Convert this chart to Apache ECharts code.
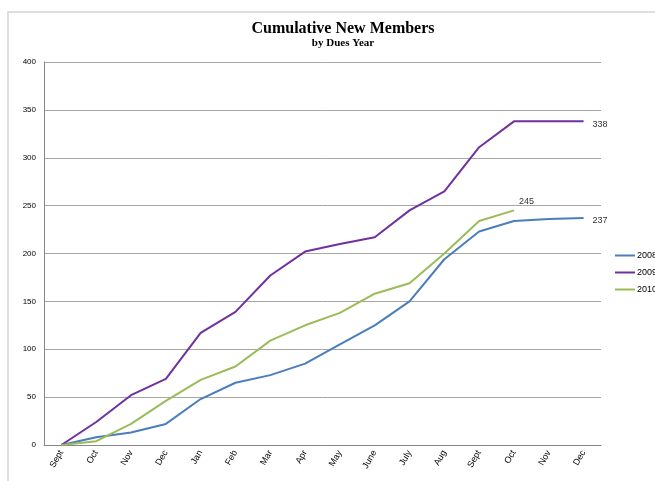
<!DOCTYPE html>
<html>
<head>
<meta charset="utf-8">
<script src="https://cdn.jsdelivr.net/npm/echarts@6/dist/echarts.min.js"></script>
<style>
  html, body { margin: 0; padding: 0; background: #fff; }
  #chart { width: 655px; height: 481px; }
</style>
</head>
<body>
<div id="chart"></div>
<script>
const months = ['Sept', 'Oct', 'Nov', 'Dec', 'Jan', 'Feb', 'Mar', 'Apr', 'May', 'June', 'July', 'Aug', 'Sept', 'Oct', 'Nov', 'Dec']
const y2008 = [0, 8, 13, 22, 48, 65, 73, 85, 105, 125, 150, 194, 223, 234, 236, 237]
const y2009 = [0, 24, 52, 69, 117, 139, 177, 202, 210, 217, 245, 265, 311, 338, 338, 338]
const y2010 = [0, 4, 22, 46, 68, 82, 109, 125, 138, 158, 169, 200, 234, 245]
const yTicks = [0, 400, 50]

// value label at the end of each line
const endLbl = (offset) => ({
  show: true, formatter: '{c}', offset: offset, distance: 5,
  fontSize: 9, color: '#333', fontFamily: 'Liberation Sans'
})

const chart = echarts.init(document.getElementById('chart'))
chart.setOption({
  animation: false,
  graphic: [{
    type: 'rect',
    shape: { x: 8, y: 12, width: 700, height: 520 },
    style: { fill: 'none', stroke: '#d4d4d4', lineWidth: 1.5 }
  }],
  title: {
    text: 'Cumulative New Members',
    subtext: 'by Dues Year',
    left: 338,
    textAlign: 'center',
    top: 16,
    itemGap: 1,
    textStyle: { fontFamily: 'Liberation Serif', fontWeight: 'bold', fontSize: 16, color: '#000' },
    subtextStyle: { fontFamily: 'Liberation Serif', fontWeight: 'bold', fontSize: 11, color: '#000' }
  },
  legend: {
    orient: 'vertical',
    left: 610,
    top: 246,
    itemWidth: 20,
    itemHeight: 2,
    itemGap: 8,
    icon: 'rect',
    textStyle: { fontSize: 9, color: '#000', fontFamily: 'Liberation Sans', padding: [0, 0, 0, -3] },
    data: ['2008', '2009', '2010']
  },
  grid: { left: 44, right: 54, top: 62, bottom: 36 },
  xAxis: {
    type: 'category',
    data: months,
    boundaryGap: true,
    axisLine: { lineStyle: { color: '#868686' } },
    axisTick: { show: false },
    axisLabel: { rotate: 60, fontSize: 9, color: '#000', fontFamily: 'Liberation Sans', interval: 0, margin: 6 }
  },
  yAxis: {
    type: 'value',
    min: yTicks[0],
    max: yTicks[1],
    interval: yTicks[2],
    axisLine: { show: true, lineStyle: { color: '#868686' } },
    axisTick: { show: false },
    axisLabel: { fontSize: 8, color: '#000', fontFamily: 'Liberation Sans', margin: 8 },
    splitLine: { lineStyle: { color: '#a6a6a6', width: 1 } }
  },
  series: [
    { name: '2008', type: 'line', data: y2008, symbol: 'none', color: '#4a7ebb', lineStyle: { width: 2 }, endLabel: endLbl([4, 2]) },
    { name: '2009', type: 'line', data: y2009, symbol: 'none', color: '#7030a0', lineStyle: { width: 2 }, endLabel: endLbl([4, 3]) },
    { name: '2010', type: 'line', data: y2010, symbol: 'none', color: '#9bbb59', lineStyle: { width: 2 }, endLabel: endLbl([0, -9]) }
  ]
})
</script>
</body>
</html>
